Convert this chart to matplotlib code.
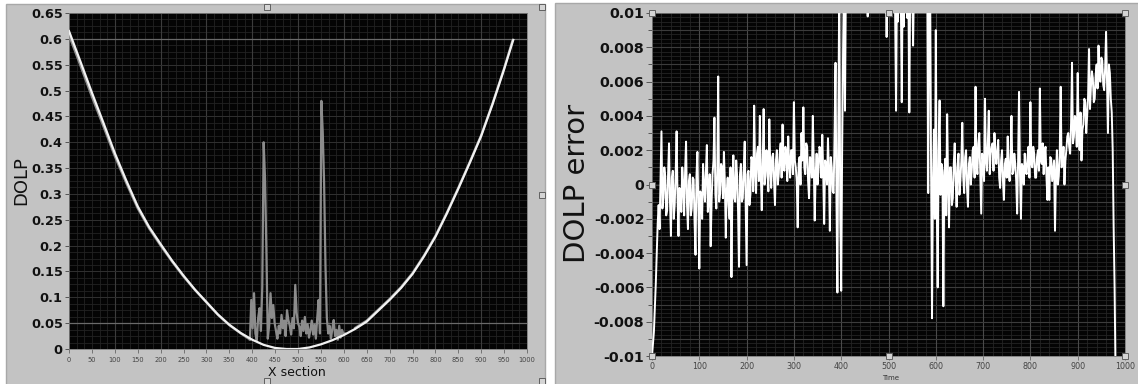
import numpy as np
import matplotlib
matplotlib.use("Agg")
import matplotlib.pyplot as plt
from matplotlib.patches import Rectangle
from matplotlib.lines import Line2D

plt.rcParams['axes.unicode_minus'] = False
plt.rcParams['font.family'] = ['DejaVu Sans']

W, H = 1138, 384

# ---------------- left chart data: DOLP vs X section ----------------
fit_x = [0, 25, 50, 75, 100, 125, 150, 175, 200, 225, 250, 275, 300, 325, 350,
         375, 400, 425, 450, 475, 500, 525, 550, 575, 600, 625, 650, 675, 700,
         725, 750, 775, 800, 825, 850, 875, 900, 925, 950, 970]
fit_dolp = [0.615, 0.556, 0.496, 0.438, 0.379, 0.326, 0.276, 0.236, 0.203, 0.171,
            0.142, 0.115, 0.091, 0.067, 0.047, 0.031, 0.018, 0.008, 0.002, 0.0,
            0.0, 0.003, 0.009, 0.017, 0.027, 0.039, 0.053, 0.074, 0.095, 0.118,
            0.145, 0.179, 0.217, 0.262, 0.310, 0.360, 0.412, 0.474, 0.541, 0.598]

meas_left_x = [0, 25, 50, 75, 100, 125, 150, 175, 200, 225, 250, 275, 300, 325,
               350, 375, 392]
meas_left_dolp = [0.607, 0.548, 0.488, 0.431, 0.373, 0.321, 0.272, 0.233, 0.200,
                  0.169, 0.140, 0.114, 0.090, 0.066, 0.046, 0.030, 0.020]

noisy_start, noisy_step = 395, 3
noisy_dolp = [0.018, 0.095, 0.040, 0.108, 0.030, 0.017, 0.060, 0.079, 0.035, 0.120,
              0.400, 0.330, 0.190, 0.020, 0.045, 0.108, 0.060, 0.085, 0.050, 0.035,
              0.020, 0.045, 0.030, 0.066, 0.040, 0.055, 0.025, 0.075, 0.056, 0.045,
              0.028, 0.060, 0.040, 0.124, 0.070, 0.050, 0.043, 0.025, 0.055, 0.035,
              0.062, 0.030, 0.048, 0.022, 0.037, 0.055, 0.028, 0.047, 0.020, 0.060,
              0.095, 0.030, 0.480, 0.420, 0.320, 0.160, 0.060, 0.030, 0.045, 0.020,
              0.040, 0.056, 0.025, 0.037, 0.018, 0.045, 0.022, 0.037, 0.030, 0.030]

meas_right_x = [625, 650, 675, 700, 725, 750, 775, 800, 825, 850, 875, 900, 925, 950, 968]
meas_right_dolp = [0.041, 0.055, 0.076, 0.097, 0.120, 0.147, 0.181, 0.219, 0.264,
                   0.312, 0.362, 0.414, 0.476, 0.543, 0.596]

# ---------------- right chart data: DOLP error vs Time (x1e-4, step 2) ----------------
time_step = 2
error_e4 = [
    -100, -93, -86, -72, -58, -40, -23, -12, -26, 2, 31, -14, -8, 10, 5, -18, -15, 6, 24, -10,
    -30, 4, 8, -20, -12, 6, 31, -8, -30, -2, -5, -16, 10, 0, -18, 8, 25, -12, -26, 2,
    6, -18, -14, 4, 3, -22, -41, 5, 19, -12, -49, -4, -6, -20, 12, -2, -10, 8, 23, -16,
    -8, 6, -36, -10, 6, 14, 39, -6, -14, 8, 63, -10, -5, 12, 10, -8, 19, 2, -31, -4,
    4, -12, -20, 10, -54, -2, 17, -8, -10, 14, 5, -16, -48, 6, 12, -10, -8, 10, 25, -12,
    -47, 6, 8, -12, -6, 16, 14, -4, 46, 8, -5, 18, 22, 2, 40, 6, -15, 12, 44, 0,
    5, 20, 12, -4, 38, 10, -2, 16, 18, 2, -12, 14, 20, 0, 6, 18, 24, 4, 35, 10,
    8, 22, 18, 2, 28, 12, 4, 20, 20, 6, 48, 14, 10, 2, -25, 12, 16, 0, 30, 14,
    45, 10, 6, 24, 22, 2, -8, 16, 14, 4, 40, 12, -21, 6, 18, 0, 8, 22, 20, 4,
    29, 6, -23, 14, 12, 0, 27, 8, -27, 16, 10, -4, -5, 30, 71, -10, -63, 40, 120, -20,
    -62, 20, 79, 120, 43, 120, 120, 120, 120, 120, 120, 120, 120, 120, 120, 120, 120, 120, 120, 120,
    120, 120, 120, 120, 120, 120, 120, 120, 98, 120, 120, 120, 120, 120, 120, 120, 120, 120, 120, 120,
    120, 120, 120, 120, 120, 120, 120, 120, 86, 120, 120, 120, 120, 120, 120, 120, 120, 100, 43, 120,
    95, 120, 120, 110, 48, 120, 92, 120, 120, 120, 97, 120, 42, 120, 120, 120, 81, 120, 120, 120,
    120, 120, 120, 120, 120, 120, 120, 120, 120, 120, 120, 120, -5, 120, 120, 10, -78, 0, 32, -20,
    90, -10, -60, 20, 49, -6, 12, 8, -71, 4, 15, -18, 41, 2, -25, 10, 10, -12, -8, 12,
    24, 2, -13, 10, 18, -6, 2, 14, 36, 4, -5, 16, 20, -2, -13, 12, 16, 0, 8, 20,
    22, 4, 57, 12, 6, 24, 30, 6, -17, 18, 14, 2, 50, 14, 8, 24, 43, 6, 18, 22,
    24, 8, 30, 18, 12, 20, 26, 4, -2, 14, 20, 2, -9, 12, 15, 4, 28, 8, 2, 16,
    40, 6, 8, 18, 12, 2, -17, 14, 54, 6, -20, 12, 10, 0, 18, 8, 6, 16, 22, 4,
    48, 12, 10, 22, 18, 4, 4, 16, 20, 8, 56, 14, 12, 24, 6, 18, 22, 4, -9, 10,
    -9, 16, 15, 2, 8, 14, -27, 6, 20, 0, 5, 18, 57, 10, 12, 22, 0, 14, 20, 28,
    30, 22, 18, 36, 71, 24, 28, 40, 38, 22, 65, 30, 20, 42, 14, 32, 35, 50, 48, 30,
    40, 52, 79, 44, 57, 66, 62, 48, 50, 64, 70, 56, 81, 62, 60, 74, 72, 58, 55, 68,
    89, 60, 30, 70, 65, 50, 42, 20, -25, -60, -110,
]

left_xticks = list(range(0, 1001, 50))
left_yticks = [0, 0.05, 0.1, 0.15, 0.2, 0.25, 0.3, 0.35, 0.4, 0.45, 0.5, 0.55, 0.6, 0.65]
right_xticks = list(range(0, 1001, 100))
right_yticks = [-0.01, -0.008, -0.006, -0.004, -0.002, 0, 0.002, 0.004, 0.006, 0.008, 0.01]

# ---------------- figure ----------------
fig = plt.figure(figsize=(W / 100, H / 100), dpi=100)
fig.patch.set_facecolor('white')


def fx(x):
    return x / W


def fy(y):
    return 1 - y / H


def panel(x0, y0, x1, y1):
    fig.add_artist(Rectangle((fx(x0), fy(y1)), fx(x1) - fx(x0), fy(y0) - fy(y1),
                             transform=fig.transFigure, facecolor='#c3c3c3',
                             edgecolor='#a8a8a8', lw=1.0, zorder=-10))


panel(6, 4, 545, 386)
panel(555, 3, 1140, 386)

ax1 = fig.add_axes([fx(69), fy(349), fx(527) - fx(69), fy(13) - fy(349)])
ax2 = fig.add_axes([fx(652), fy(356), fx(1125) - fx(652), fy(13) - fy(356)])

for ax in (ax1, ax2):
    ax.set_zorder(1)
    ax.set_facecolor('#040404')
    for s in ax.spines.values():
        s.set_color('#7a7a7a')
        s.set_linewidth(0.6)

# ---- grids (left) ----
for v in np.arange(0, 1000, 1000 / 60):
    ax1.axvline(v, color='#222222', lw=0.6, zorder=0)
for v in np.arange(0, 0.65, 0.0125):
    ax1.axhline(v, color='#222222', lw=0.6, zorder=0)
for v in range(100, 1000, 100):
    ax1.axvline(v, color='#3c3c3c', lw=0.8, zorder=0)
for v in left_yticks:
    ax1.axhline(v, color='#303030', lw=0.7, zorder=0)
for v in (0.05, 0.6):
    ax1.axhline(v, color='#6a6a6a', lw=0.9, zorder=0)

# ---- grids (right) ----
for v in np.arange(0, 1000, 20):
    ax2.axvline(v, color='#242424', lw=0.6, zorder=0)
for v in np.arange(-0.01, 0.01, 0.00025):
    ax2.axhline(v, color='#242424', lw=0.6, zorder=0)
for v in range(100, 1000, 100):
    ax2.axvline(v, color='#4a4a4a', lw=0.8, zorder=0)
for v in np.arange(-0.009, 0.0095, 0.001):
    ax2.axhline(v, color='#3c3c3c', lw=0.8, zorder=0)

# ---- left data ----
ax1.plot(meas_left_x, meas_left_dolp, color='#8c8c8c', lw=1.6, zorder=3)
noisy_x = noisy_start + noisy_step * np.arange(len(noisy_dolp))
ax1.plot(noisy_x, noisy_dolp, color='#8c8c8c', lw=1.6, zorder=3)
ax1.plot(meas_right_x, meas_right_dolp, color='#8c8c8c', lw=1.6, zorder=3)
ax1.plot(fit_x, fit_dolp, color='#f2f2f2', lw=1.6, zorder=4)

ax1.set_xlim(0, 1000)
ax1.set_ylim(0, 0.65)
ax1.set_xticks(left_xticks)
ax1.set_xticklabels([str(t) for t in left_xticks])
ax1.set_yticks(left_yticks)
ax1.set_yticklabels(['%g' % t for t in left_yticks])
ax1.tick_params(axis='y', length=3, width=0.7, color='#555555', pad=1.5,
                labelsize=9.3, labelcolor='#111111')
ax1.tick_params(axis='x', length=3, width=0.6, color='#666666', pad=2.5,
                labelsize=4.8, labelcolor='#444444')
for lab in ax1.get_yticklabels():
    lab.set_fontweight('bold')

# ---- right data ----
error = np.array(error_e4) * 1e-4
time = time_step * np.arange(len(error))
ax2.plot(time, error, color='#ffffff', lw=1.4, zorder=4)
ax2.set_xlim(0, 1000)
ax2.set_ylim(-0.01, 0.01)
ax2.set_xticks(right_xticks)
ax2.set_xticklabels([str(t) for t in right_xticks])
ax2.set_yticks(right_yticks)
ax2.set_yticklabels(['%g' % t for t in right_yticks])
ax2.set_yticks(np.arange(-0.009, 0.0095, 0.002), minor=True)
ax2.tick_params(axis='y', which='major', length=4, width=0.7, color='#555555', pad=1.5,
                labelsize=10.3, labelcolor='#111111')
ax2.tick_params(axis='y', which='minor', length=3, width=0.7, color='#555555')
ax2.tick_params(axis='x', length=3, width=0.6, color='#666666', pad=1.5,
                labelsize=5.8, labelcolor='#444444')
for lab in ax2.get_yticklabels():
    lab.set_fontweight('bold')

# cursor-handle squares on the right plot
hx = [0, 0, 0, 0.5, 0.5, 1, 1, 1]
hy = [0, 0.5, 1, 0, 1, 0, 0.5, 1]
ax2.plot(hx, hy, ls='none', marker='s', ms=4, mfc='#d4d4d4', mec='#606060', mew=0.7,
         transform=ax2.transAxes, clip_on=False, zorder=10)

# handle squares on the left panel frame (figure coordinates)
lhx = [267, 267, 542, 542, 542]
lhy = [7, 381, 7, 195, 381]
fig.add_artist(Line2D([fx(v) for v in lhx], [fy(v) for v in lhy], ls='none', marker='s',
                      ms=4, mfc='#d4d4d4', mec='#606060', mew=0.7,
                      transform=fig.transFigure, zorder=10))

# labels
fig.text(fx(21), fy(181), 'DOLP', rotation=90, ha='center', va='center',
         fontsize=13, color='#111111')
fig.text(fx(297), fy(373), 'X section', ha='center', va='center',
         fontsize=9, color='#111111')
fig.text(fx(577), fy(183), 'DOLP error', rotation=90, ha='center', va='center',
         fontsize=21, color='#111111')
fig.text(fx(891), fy(378), 'Time', ha='center', va='center',
         fontsize=5, color='#333333')

fig.savefig('out.png', dpi=100, facecolor=fig.get_facecolor())
